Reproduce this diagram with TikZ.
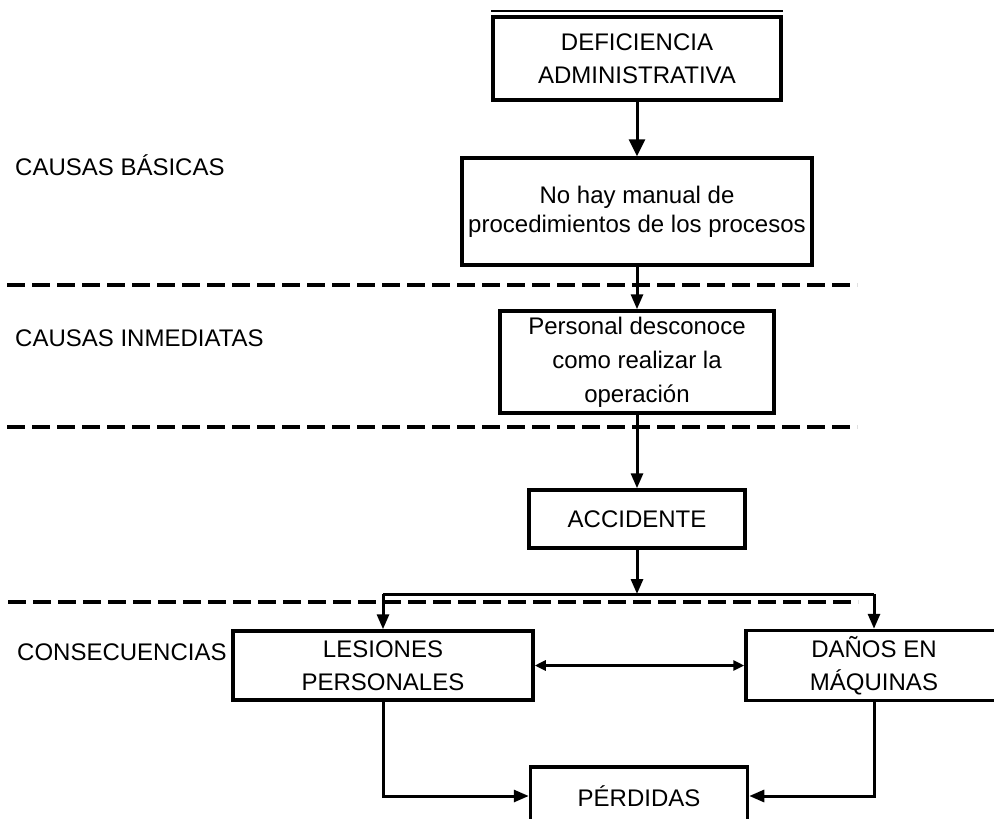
\documentclass[tikz,border=0pt]{standalone}
\usepackage{fontspec}
\setmainfont{Liberation Sans}
\usetikzlibrary{arrows.meta}
\begin{document}
\begin{tikzpicture}[x=1pt,y=-1pt,
  box/.style={draw, line width=3.5pt, align=center, inner sep=0pt, font=\fontsize{24}{33}\selectfont},
  conn/.style={line width=3pt},
  arr/.style={conn, -{Triangle[length=15pt,width=12pt]}},
  bigarr/.style={conn, -{Triangle[length=17pt,width=16pt]}},
  dblarr/.style={conn, {Triangle[length=11pt,width=10pt]}-{Triangle[length=11pt,width=10pt]}},
  divider/.style={line width=4.5pt, dash pattern=on 18pt off 7pt},
  lbl/.style={anchor=west, inner sep=0pt, font=\fontsize{24}{33}\selectfont}]
\useasboundingbox (0,0) rectangle (994,819);
\clip (0,0) rectangle (994,819);
\fill[white] (0,0) rectangle (994,819);

% dividers
\draw[divider] (7,285) -- (857,285);
\draw[divider] (7,427) -- (857,427);
\draw[divider] (8,602) -- (858,602);

% labels
\node[lbl] (lb1) at (15,165) {CAUSAS BÁSICAS};
\node[lbl] (lb2) at (15,338) {CAUSAS INMEDIATAS};
\node[lbl] (lb3) at (17,652) {CONSECUENCIAS};

% boxes
\node[box, minimum width=288pt, minimum height=83pt] (def) at (637,58.5) {DEFICIENCIA\\ADMINISTRATIVA};
\draw[line width=2pt] ([yshift=4pt]def.north west) -- ([yshift=4pt]def.north east);
\node[box, minimum width=350pt, minimum height=107pt, font=\fontsize{24}{29}\selectfont] (man) at (637,211.5) {No hay manual de\\procedimientos de los procesos};
\node[box, minimum width=274pt, minimum height=102pt, font=\fontsize{24}{34}\selectfont] (pers) at (637,362) {Personal desconoce\\como realizar la\\operación};
\node[box, minimum width=216pt, minimum height=58pt] (acc) at (637,519) {ACCIDENTE};
\node[box, minimum width=300pt, minimum height=69pt] (les) at (383,665.5) {LESIONES\\PERSONALES};
\node[box, minimum width=256pt, minimum height=70pt] (dan) at (874,665.5) {DAÑOS EN\\MÁQUINAS};
\node[box, minimum width=217pt, minimum height=58pt] (per) at (639,796) {PÉRDIDAS};

% connectors
\draw[bigarr] (def.south) -- (man.north);
\draw[arr] (man.south) -- (pers.north);
\draw[arr] (pers.south) -- (acc.north);
\coordinate (split) at (637,594);
\coordinate (lsplit) at (383,594);
\coordinate (rsplit) at (874,594);
\draw[arr] (acc.south) -- (split);
\draw[conn] (lsplit) -- (rsplit);
\draw[arr] (lsplit) -- (les.north);
\draw[arr] (rsplit) -- (dan.north);
\draw[dblarr] (les.east) -- (dan.west);
\draw[arr] (les.south) |- (per.west);
\draw[arr] (dan.south) |- (per.east);
\end{tikzpicture}
\end{document}
